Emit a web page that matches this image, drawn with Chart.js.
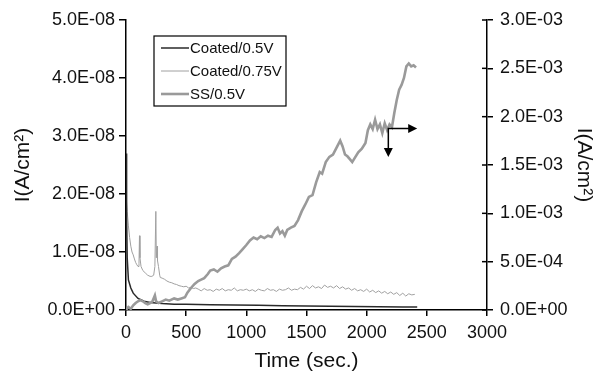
<!DOCTYPE html>
<html>
<head>
<meta charset="utf-8">
<script src="https://cdn.jsdelivr.net/npm/chart.js@4"></script>
<style>
  html, body { margin: 0; padding: 0; background: #fff; }
  #wrap { width: 598px; height: 374px; }
</style>
</head>
<body>
<div id="wrap"><canvas id="currentChart" width="598" height="374"></canvas></div>
<script>
// values; coated series in units of 1E-08 A/cm2, SS in 1E-03 A/cm2
const coated05Time = [0, 5, 10, 20, 40, 60, 100, 150, 200, 300, 400, 500, 700, 900, 1100, 1300, 1500, 1700, 1900, 2100, 2300, 2420];
const coated05Val = [2.7, 1.6, 0.9, 0.52, 0.38, 0.29, 0.2, 0.15, 0.13, 0.11, 0.10, 0.10, 0.09, 0.086, 0.08, 0.075, 0.07, 0.065, 0.06, 0.055, 0.05, 0.05];

const coated075Time = [0, 10, 20, 30, 40, 50, 60, 70, 80, 90, 100, 108, 112, 116, 125, 140, 160, 180, 200, 215, 230, 240, 248, 252, 258, 262, 270, 280, 285,
  300, 320, 340, 360, 380, 400, 420, 440, 460, 480, 500, 520, 540, 560, 580,
  600, 625, 650, 675, 700, 725, 750, 775, 800, 825, 850, 875, 900, 925, 950, 975, 1000,
  1025, 1050, 1075, 1100, 1125, 1150, 1175, 1200, 1225, 1250, 1275, 1300, 1325, 1350, 1375, 1400, 1425, 1450, 1475, 1500,
  1525, 1550, 1575, 1600, 1625, 1650, 1675, 1700, 1725, 1750, 1775, 1800,
  1825, 1850, 1875, 1900, 1925, 1950, 1975, 2000, 2025, 2050, 2075, 2100,
  2125, 2150, 2175, 2200, 2225, 2250, 2275, 2300, 2325, 2350, 2375, 2400];
const coated075Val = [2.0, 1.7, 1.45, 1.25, 1.1, 1.0, 0.95, 0.88, 0.82, 0.78, 0.75, 0.8, 1.28, 0.9, 0.75, 0.68, 0.64, 0.6, 0.58, 0.58, 0.6, 0.75, 1.7, 0.9, 1.1, 0.85, 0.75, 0.6, 0.56,
  0.55, 0.53, 0.5, 0.48, 0.47, 0.45, 0.44, 0.42, 0.41, 0.4, 0.41, 0.38, 0.39, 0.37, 0.38,
  0.36, 0.33, 0.37, 0.34, 0.35, 0.32, 0.36, 0.34, 0.37, 0.33, 0.35, 0.34, 0.38, 0.33, 0.35, 0.34, 0.36,
  0.33, 0.35, 0.32, 0.36, 0.34, 0.33, 0.37, 0.34, 0.35, 0.32, 0.36, 0.34, 0.35, 0.38, 0.34, 0.36, 0.35, 0.39, 0.36, 0.41,
  0.37, 0.42, 0.38, 0.40, 0.37, 0.43, 0.39, 0.41, 0.38, 0.42, 0.37, 0.40,
  0.36, 0.38, 0.34, 0.37, 0.33, 0.35, 0.32, 0.36, 0.31, 0.34, 0.30, 0.33,
  0.29, 0.32, 0.28, 0.31, 0.27, 0.30, 0.25, 0.29, 0.24, 0.28, 0.26, 0.27];

const ssTime = [0, 20, 40, 60, 80, 100, 120, 140, 160, 180, 200, 220, 240, 250, 270, 300, 330, 360, 400, 430, 460, 490,
  510, 540, 570, 600, 620, 650, 680, 700, 730, 760, 790, 820, 850, 880, 910, 940, 970, 1000,
  1030, 1060, 1090, 1120, 1150, 1180, 1210, 1240, 1260, 1280, 1300, 1320, 1340, 1370, 1400, 1430, 1460, 1490, 1520, 1550, 1580, 1610,
  1630, 1660, 1690, 1720, 1750, 1780, 1800, 1820, 1840, 1860, 1880, 1900, 1930, 1960, 1990,
  2010, 2030, 2050, 2070, 2090, 2110, 2130, 2150, 2170, 2190, 2210, 2230, 2250, 2270, 2290, 2310, 2330, 2350, 2370, 2390, 2410];
const ssVal = [0, 0.03, 0.012, 0.048, 0.072, 0.09, 0.102, 0.09, 0.072, 0.06, 0.072, 0.09, 0.15, 0.09, 0.072, 0.09, 0.108, 0.096, 0.12, 0.108, 0.12, 0.132,
  0.18, 0.228, 0.27, 0.3, 0.312, 0.33, 0.372, 0.408, 0.42, 0.396, 0.432, 0.45, 0.462, 0.528, 0.552, 0.588, 0.63, 0.672,
  0.72, 0.75, 0.732, 0.762, 0.744, 0.768, 0.756, 0.828, 0.852, 0.792, 0.816, 0.768, 0.828, 0.852, 0.87, 0.93, 1.02, 1.092, 1.17, 1.188, 1.32, 1.428,
  1.41, 1.53, 1.584, 1.608, 1.68, 1.752, 1.692, 1.608, 1.59, 1.56, 1.53, 1.572, 1.632, 1.668, 1.728,
  1.86, 1.92, 1.872, 1.968, 1.872, 1.92, 1.83, 1.932, 1.86, 1.92, 1.89, 2.04, 2.172, 2.28, 2.328, 2.4, 2.52, 2.55, 2.52, 2.532, 2.508];

const seriesLabels = ['Coated/0.5V', 'Coated/0.75V', 'SS/0.5V'];

// axis-switch arrows (left-axis units of 1E-08)
const arrowCorner = { t: 2180, v: 3.13 };
const arrowRightEndT = 2420;
const arrowDownEndV = 2.64;

function toPoints(times, vals, unit) {
  return times.map((t, i) => ({ x: t, y: vals[i] * unit }));
}

function sci(v) {
  if (Math.abs(v) < 1e-15) return '0.0E+00';
  const [m, e] = v.toExponential(1).split('e');
  const n = parseInt(e, 10);
  return m + 'E' + (n < 0 ? '-' : '+') + String(Math.abs(n)).padStart(2, '0');
}

const FONT = 'Liberation Sans, Arial, sans-serif';

// legend box drawn inside the plot
const boxLegend = {
  id: 'boxLegend',
  afterDraw(chart) {
    const ctx = chart.ctx;
    const left = 154, top = 36, w = 132, h = 70;
    ctx.save();
    ctx.fillStyle = '#fff';
    ctx.fillRect(left, top, w, h);
    ctx.strokeStyle = '#000';
    ctx.lineWidth = 1.2;
    ctx.strokeRect(left, top, w, h);
    ctx.font = '15px ' + FONT;
    ctx.textBaseline = 'middle';
    chart.data.datasets.forEach((ds, i) => {
      const y = top + 12 + i * 23;
      ctx.beginPath();
      ctx.strokeStyle = ds.borderColor;
      ctx.lineWidth = ds.borderWidth;
      ctx.moveTo(left + 7, y);
      ctx.lineTo(left + 35, y);
      ctx.stroke();
      ctx.fillStyle = '#111';
      ctx.fillText(ds.label, left + 36, y + 1);
    });
    ctx.restore();
  }
};

// right-axis ticks cross the axis line: draw the inner half
const innerTicks = {
  id: 'innerTicks',
  afterDraw(chart) {
    const s = chart.scales.y2;
    const ctx = chart.ctx;
    ctx.save();
    ctx.strokeStyle = '#000';
    ctx.lineWidth = 1.5;
    s.ticks.forEach(t => {
      const y = s.getPixelForValue(t.value);
      ctx.beginPath();
      ctx.moveTo(s.left - 5, y);
      ctx.lineTo(s.left, y);
      ctx.stroke();
    });
    ctx.restore();
  }
};

// arrows pointing to the right axis and down
const axisArrows = {
  id: 'axisArrows',
  afterDatasetsDraw(chart) {
    const { ctx, scales } = chart;
    const cx = scales.x.getPixelForValue(arrowCorner.t);
    const cy = scales.y.getPixelForValue(arrowCorner.v * 1e-8);
    const rx = scales.x.getPixelForValue(arrowRightEndT);
    const dy = scales.y.getPixelForValue(arrowDownEndV * 1e-8);
    ctx.save();
    ctx.strokeStyle = '#000';
    ctx.fillStyle = '#000';
    ctx.lineWidth = 1.5;
    ctx.beginPath();
    ctx.moveTo(rx - 8, cy);
    ctx.lineTo(cx, cy);
    ctx.lineTo(cx, dy - 8);
    ctx.stroke();
    ctx.beginPath();
    ctx.moveTo(rx, cy);
    ctx.lineTo(rx - 9, cy - 4.5);
    ctx.lineTo(rx - 9, cy + 4.5);
    ctx.closePath();
    ctx.fill();
    ctx.beginPath();
    ctx.moveTo(cx, dy);
    ctx.lineTo(cx - 4.5, dy - 9);
    ctx.lineTo(cx + 4.5, dy - 9);
    ctx.closePath();
    ctx.fill();
    ctx.restore();
  }
};

const ctx = document.getElementById('currentChart').getContext('2d');
const chart = new Chart(ctx, {
  type: 'line',
  data: {
    datasets: [
      {
        label: seriesLabels[0],
        data: toPoints(coated05Time, coated05Val, 1e-8),
        yAxisID: 'y',
        borderColor: '#2a2a2a',
        borderWidth: 1.5,
        pointRadius: 0,
        tension: 0,
        order: 2
      },
      {
        label: seriesLabels[1],
        data: toPoints(coated075Time, coated075Val, 1e-8),
        yAxisID: 'y',
        borderColor: '#a0a0a0',
        borderWidth: 1,
        pointRadius: 0,
        tension: 0,
        order: 3
      },
      {
        label: seriesLabels[2],
        data: toPoints(ssTime, ssVal, 1e-3),
        yAxisID: 'y2',
        borderColor: '#9a9a9a',
        borderWidth: 2.6,
        pointRadius: 0,
        tension: 0,
        order: 1
      }
    ]
  },
  options: {
    responsive: false,
    animation: false,
    layout: { padding: { top: 20, left: 0, right: 0, bottom: 0 } },
    plugins: {
      legend: { display: false },
      tooltip: { enabled: false }
    },
    scales: {
      x: {
        type: 'linear',
        min: 0,
        max: 3000,
        afterFit(scale) { scale.height = 64; },
        border: { color: '#000', width: 1.5 },
        grid: { drawOnChartArea: false, drawTicks: true, tickLength: 6, color: '#000', lineWidth: 1.5 },
        ticks: {
          stepSize: 500,
          color: '#111',
          padding: 6,
          maxRotation: 0,
          font: { family: FONT, size: 18 },
          callback: v => String(v)
        },
        title: {
          display: true,
          text: 'Time (sec.)',
          color: '#111',
          padding: { top: 0, bottom: 0 },
          font: { family: FONT, size: 21 }
        }
      },
      y: {
        type: 'linear',
        position: 'left',
        min: 0,
        max: 5e-8,
        afterFit(scale) { scale.width = 126; },
        border: { color: '#000', width: 1.5 },
        grid: { drawOnChartArea: false, drawTicks: true, tickLength: 7, color: '#000', lineWidth: 1.5 },
        ticks: {
          stepSize: 1e-8,
          color: '#111',
          padding: 4,
          font: { family: FONT, size: 18 },
          callback: v => sci(v)
        },
        title: {
          display: true,
          text: 'I(A/cm²)',
          color: '#111',
          padding: { top: 11, bottom: 0 },
          font: { family: FONT, size: 21 }
        }
      },
      y2: {
        type: 'linear',
        position: 'right',
        min: 0,
        max: 3e-3,
        afterFit(scale) { scale.width = 111; },
        border: { color: '#000', width: 1.5 },
        grid: { drawOnChartArea: false, drawTicks: true, tickLength: 6, color: '#000', lineWidth: 1.5 },
        ticks: {
          stepSize: 5e-4,
          color: '#111',
          padding: 7,
          font: { family: FONT, size: 18 },
          callback: v => sci(v)
        },
        title: {
          display: true,
          text: 'I(A/cm²)',
          color: '#111',
          padding: { top: 2, bottom: 0 },
          font: { family: FONT, size: 21 }
        }
      }
    }
  },
  plugins: [axisArrows, boxLegend, innerTicks]
});
</script>
</body>
</html>
